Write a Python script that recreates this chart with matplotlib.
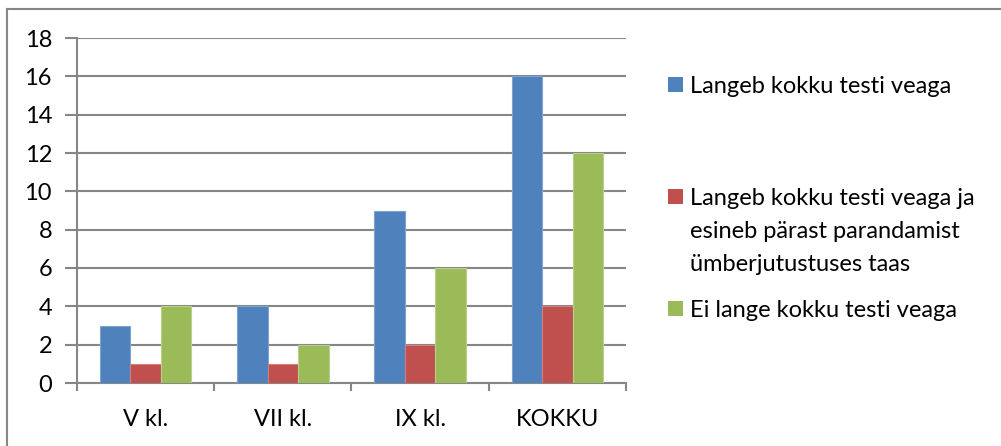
import numpy as np
import matplotlib.pyplot as plt
from matplotlib.patches import Rectangle
from matplotlib.lines import Line2D

plt.rcParams['font.family'] = ['Lato', 'DejaVu Sans']

# andmed
klassid = ['V kl.', 'VII kl.', 'IX kl.', 'KOKKU']
langeb = [3, 4, 9, 16]
langeb_taas = [1, 1, 2, 4]
ei_lange = [4, 2, 6, 12]
seeriad = ['Langeb kokku testi veaga',
           'Langeb kokku testi veaga ja\nesineb pärast parandamist\nümberjutustuses taas',
           'Ei lange kokku testi veaga']
varvid = ['#4F81BD', '#C0504D', '#9BBB59']
servad = ['#7FA3D0', '#D07F7C', '#B8D08A']

W, H = 1001, 446
fs = 17
fig = plt.figure(figsize=(W / 100, H / 100), dpi=100)
ax = fig.add_axes([77 / W, 1 - 383 / H, (626 - 77) / W, (383 - 38) / H])

x = np.arange(len(klassid))
bw = 1 / 4.5
for i, vals in enumerate([langeb, langeb_taas, ei_lange]):
    ax.bar(x + (i - 1) * bw, vals, width=bw, color=varvid[i],
           edgecolor=servad[i], linewidth=0.8, zorder=3)

ax.set_xlim(-0.5, len(klassid) - 0.5)
ax.set_ylim(0, 18)
ax.set_yticks(range(0, 19, 2))
ax.yaxis.grid(True, color='#868686', linewidth=1.5, zorder=0)
ax.set_axisbelow(True)

# kategooria piirid
ax.set_xticks(np.arange(-0.5, len(klassid)), minor=False)
ax.set_xticklabels([])
ax.set_xticks(x, minor=True)
ax.set_xticklabels(klassid, minor=True)
ax.tick_params(axis='x', which='major', length=6, width=1.5, color='#868686', direction='out')
ax.tick_params(axis='x', which='minor', length=0, pad=19, labelsize=fs)
ax.tick_params(axis='y', length=9, width=1.5, color='#868686', direction='out', pad=9, labelsize=fs)

for s in ['top', 'right']:
    ax.spines[s].set_visible(False)
for s in ['left', 'bottom']:
    ax.spines[s].set_color('#868686')
    ax.spines[s].set_linewidth(1.5)

# legend
leg_y = [93, 205, 317]  # esimese rea baasjoon
for i, name in enumerate(seeriad):
    fig.patches.append(Rectangle((668 / W, 1 - (leg_y[i] - 1) / H), 15 / W, 15 / H,
                                 transform=fig.transFigure, facecolor=varvid[i],
                                 edgecolor='none'))
    for j, rida in enumerate(name.split('\n')):
        fig.text(690 / W, 1 - (leg_y[i] + 33 * j) / H, rida, fontsize=fs,
                 va='baseline', ha='left')

# raam (ainult ülemine ja vasak serv on näha)
fig.lines.append(Line2D([7 / W, 1], [1 - 9 / H, 1 - 9 / H], transform=fig.transFigure,
                        color='#868686', linewidth=1.5))
fig.lines.append(Line2D([7 / W, 7 / W], [0, 1 - 9 / H], transform=fig.transFigure,
                        color='#868686', linewidth=1.5))

fig.savefig('out.png', dpi=100)
